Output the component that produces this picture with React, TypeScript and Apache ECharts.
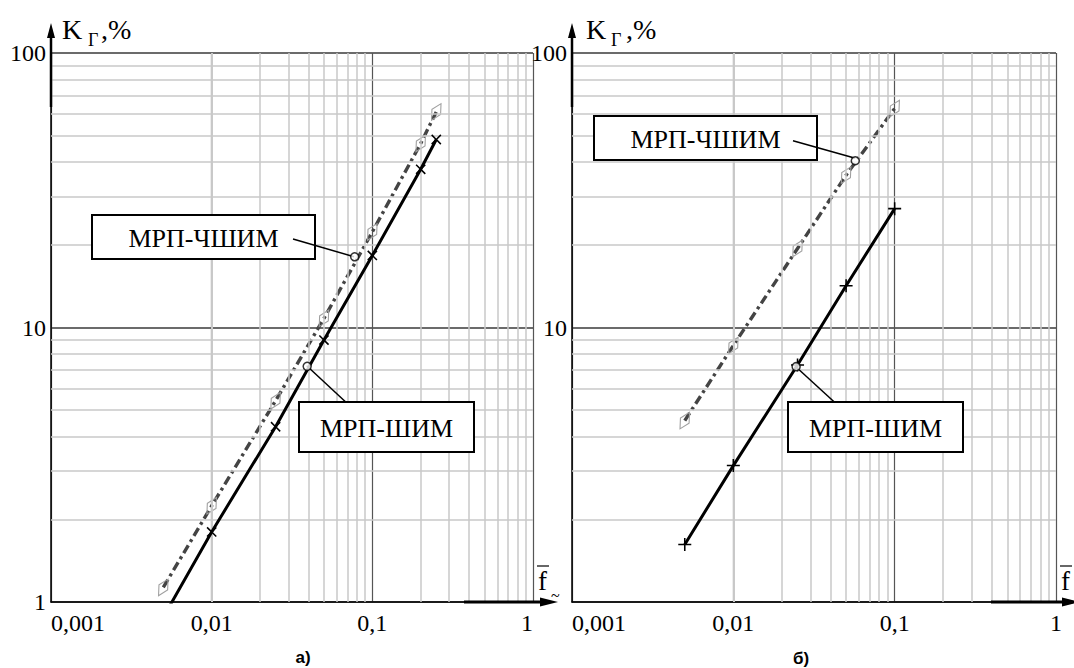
import React, { useEffect, useRef } from 'react';
import * as echarts from 'echarts';

// ---- tick values / labels ----
const xTickValues = [0.001, 0.01, 0.1, 1];
const xTickLabels = ['0,001', '0,01', '0,1', '1'];
const yTickValues = [1, 10, 100];
const yTickLabelsLeft = ['1', '10', '100'];
const yTickLabelsRight = ['', '10', '100'];
const minorFactors = [2, 3, 4, 5, 6, 7, 8, 9];
const xDecades = [0.001, 0.01, 0.1];
const yDecades = [1, 10];

// ---- data: panel а) ----
const fLeft = [0.005, 0.01, 0.025, 0.05, 0.1, 0.2, 0.25];
const kLeftShim = [0.88, 1.8, 4.35, 9.0, 18.3, 37.7, 48.4];
const kLeftChshim = [1.13, 2.24, 5.41, 10.8, 22.3, 46.8, 61];
const leftCalloutChshim = [0.0776, 18.1];
const leftCalloutShim = [0.0393, 7.22];

// ---- data: panel б) ----
const fRight = [0.005, 0.01, 0.025, 0.05, 0.1];
const kRightShim = [1.62, 3.14, 7.3, 14.2, 27.1];
const kRightChshim = [4.58, 8.6, 19.4, 35.9, 62.8];
const rightCalloutChshim = [0.057, 40.5];
const rightCalloutShim = [0.0245, 7.2];

const SERIF = 'Liberation Serif';
const SANS = 'Liberation Sans';
const CROSS = 'path://M4.4,0H5.6V4.4H10V5.6H5.6V10H4.4V5.6H0V4.4H4.4Z';

const minorX = xDecades.flatMap((d) => minorFactors.map((m) => +(d * m).toPrecision(4)));
const minorY = yDecades.flatMap((d) => minorFactors.map((m) => +(d * m).toPrecision(4)));

function findIdx(vals: number[], v: number) {
  return vals.findIndex((t) => Math.abs(Math.log10(t) - Math.log10(v)) < 1e-6);
}

function makeXAxis(gridIndex: number, alignMax: string) {
  return {
    type: 'log',
    logBase: 10,
    min: 0.001,
    max: 1,
    gridIndex,
    axisLine: { show: true, lineStyle: { color: '#000', width: 1.5 } },
    axisTick: { show: false },
    axisLabel: {
      fontFamily: SERIF,
      fontSize: 24,
      color: '#000',
      margin: 9,
      alignMinLabel: 'left',
      alignMaxLabel: alignMax,
      formatter: (v: number) => {
        const i = findIdx(xTickValues, v);
        return i >= 0 ? xTickLabels[i] : '';
      },
    },
    splitLine: { show: true, lineStyle: { color: '#555', width: 1.2 } },
  };
}

function makeYAxis(gridIndex: number, labels: string[]) {
  return {
    type: 'log',
    logBase: 10,
    min: 1,
    max: 100,
    gridIndex,
    axisLine: { show: true, lineStyle: { color: '#000', width: 1.5 } },
    axisTick: { show: false },
    axisLabel: {
      fontFamily: SERIF,
      fontSize: 24,
      color: '#000',
      margin: 5,
      formatter: (v: number) => {
        const i = findIdx(yTickValues, v);
        return i >= 0 ? labels[i] : '';
      },
    },
    splitLine: { show: true, lineStyle: { color: '#3a3a3a', width: 1.5 } },
  };
}

function gridMinorSeries(idx: number) {
  return {
    type: 'line',
    xAxisIndex: idx,
    yAxisIndex: idx,
    data: [[0.5, 50]],
    showSymbol: false,
    lineStyle: { opacity: 0 },
    silent: true,
    z: 1,
    markLine: {
      silent: true,
      symbol: ['none', 'none'],
      label: { show: false },
      emphasis: { disabled: true },
      lineStyle: { color: '#c9c9c9', width: 1.5, type: 'solid' },
      data: [...minorX.map((v) => ({ xAxis: v })), ...minorY.map((v) => ({ yAxis: v }))],
    },
  };
}

function shimSeries(idx: number, fs: number[], ks: number[], rotate: number, firstHidden: boolean) {
  return {
    type: 'line',
    xAxisIndex: idx,
    yAxisIndex: idx,
    clip: true,
    z: 5,
    data: fs.map((f, i) => ({ value: [f, ks[i]], symbol: firstHidden && i === 0 ? 'none' : CROSS })),
    symbolSize: 13,
    symbolRotate: rotate,
    itemStyle: { color: '#000' },
    lineStyle: { color: '#000', width: 3 },
  };
}

function chshimSeries(idx: number, fs: number[], ks: number[]) {
  return {
    type: 'line',
    xAxisIndex: idx,
    yAxisIndex: idx,
    clip: true,
    z: 4,
    data: fs.map((f, i) => [f, ks[i]]),
    symbol: 'diamond',
    symbolSize: [10, 19],
    symbolRotate: -30,
    showAllSymbol: true,
    itemStyle: { color: 'rgba(255,255,255,0)', borderColor: '#a0a0a0', borderWidth: 1.2 },
    lineStyle: { color: '#444', width: 3.4, type: [9, 4, 3, 4] },
  };
}

function calloutSeries(idx: number, pts: number[][]) {
  return {
    type: 'scatter',
    xAxisIndex: idx,
    yAxisIndex: idx,
    z: 200,
    data: pts,
    symbol: 'circle',
    symbolSize: 8,
    itemStyle: { color: '#fff', borderColor: '#000', borderWidth: 1.5 },
  };
}

function txt(text: string, x: number, y: number, size: number, family: string, align = 'left', weight = 'normal') {
  return {
    type: 'text',
    x,
    y,
    z: 150,
    style: {
      text,
      fontSize: size,
      fontFamily: family,
      fontWeight: weight,
      fill: '#000',
      align,
      verticalAlign: 'middle',
    },
  };
}

function line(x1: number, y1: number, x2: number, y2: number, w: number) {
  return {
    type: 'line',
    z: 120,
    shape: { x1, y1, x2, y2 },
    style: { stroke: '#000', lineWidth: w },
  };
}

function box(x: number, y: number, w: number, h: number) {
  return {
    type: 'rect',
    z: 110,
    shape: { x, y, width: w, height: h },
    style: { fill: '#fff', stroke: '#000', lineWidth: 2 },
  };
}

function poly(points: number[][]) {
  return { type: 'polygon', z: 120, shape: { points }, style: { fill: '#000' } };
}

export default function App() {
  const ref = useRef<HTMLDivElement>(null);
  useEffect(() => {
    if (!ref.current) return;
    const chart = echarts.init(ref.current, null, { renderer: 'svg' });
    const option: any = {
      animation: false,
      backgroundColor: '#fff',
      textStyle: { fontFamily: SERIF },
      grid: [
        { left: 51, top: 53, width: 482, height: 549 },
        { left: 572, top: 53, width: 484, height: 549 },
      ],
      xAxis: [makeXAxis(0, 'right'), makeXAxis(1, 'center')],
      yAxis: [makeYAxis(0, yTickLabelsLeft), makeYAxis(1, yTickLabelsRight)],
      series: [
        gridMinorSeries(0),
        gridMinorSeries(1),
        chshimSeries(0, fLeft, kLeftChshim),
        shimSeries(0, fLeft, kLeftShim, 45, true),
        chshimSeries(1, fRight, kRightChshim),
        shimSeries(1, fRight, kRightShim, 0, false),
        calloutSeries(0, [leftCalloutChshim, leftCalloutShim]),
        calloutSeries(1, [rightCalloutChshim, rightCalloutShim]),
      ],
      graphic: [
        // callout boxes, leaders, texts
        box(92, 215, 223, 44),
        line(293, 239, 354, 256.7, 1.5),
        txt('МРП-ЧШИМ', 203.5, 238, 26, SERIF, 'center'),
        box(299, 402, 175, 50),
        line(306.7, 365.7, 345.7, 402, 1.5),
        txt('МРП-ШИМ', 386.5, 428, 26, SERIF, 'center'),
        box(594, 116, 223, 44),
        line(793, 140.7, 855.3, 158.3, 1.5),
        txt('МРП-ЧШИМ', 705.5, 139, 26, SERIF, 'center'),
        box(788, 402, 175, 50),
        line(795, 366, 834.3, 402, 1.5),
        txt('МРП-ШИМ', 875.5, 428, 26, SERIF, 'center'),
        // y-axis arrows
        line(51, 32, 51, 107, 2.5),
        poly([[51, 23], [47, 38], [55, 38]]),
        line(572, 32, 572, 107, 2.5),
        poly([[572, 23], [568, 38], [576, 38]]),
        // x-axis arrows
        line(464, 602, 545, 602, 3),
        poly([[558, 602], [540, 597.5], [540, 606.5]]),
        line(991, 602, 1066, 602, 3),
        poly([[1080, 602], [1062, 597.5], [1062, 606.5]]),
        // y-axis names
        txt('K', 62, 29, 28, SERIF),
        txt('Г', 88, 40, 18, SERIF),
        txt(',%', 101, 29, 28, SERIF),
        txt('K', 586, 29, 28, SERIF),
        txt('Г', 611, 40, 18, SERIF),
        txt(',%', 626, 29, 28, SERIF),
        // x-axis names
        txt('f', 538, 581, 27, SERIF),
        line(537, 566, 549, 566, 1.2),
        txt('~', 551, 595, 16, SERIF),
        txt('f', 1061, 581, 27, SERIF),
        line(1060, 566, 1072, 566, 1.2),
        // captions
        txt('а)', 303, 657, 17, SANS, 'center', 'bold'),
        txt('б)', 801, 658, 17, SANS, 'center', 'bold'),
      ],
    };
    chart.setOption(option);
    return () => chart.dispose();
  }, []);
  return (
    <div
      ref={ref}
      style={{ position: 'absolute', left: 0, top: 0, width: 1074, height: 668, background: '#fff' }}
    />
  );
}
